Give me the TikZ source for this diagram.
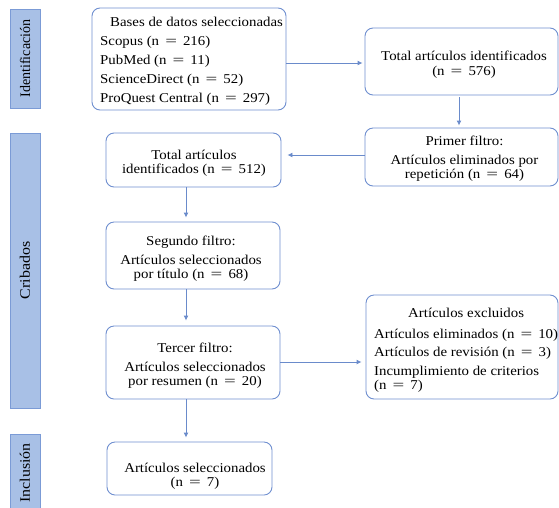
\documentclass[tikz,border=0pt]{standalone}
\usepackage{fontspec}
\setmainfont{Liberation Serif}[FakeStretch=1.1]
\usetikzlibrary{arrows.meta,calc}
\definecolor{boxblue}{HTML}{6F8FD0}
\definecolor{arrblue}{HTML}{6A8BCB}
\definecolor{barfill}{HTML}{A8C0E6}
\definecolor{barline}{HTML}{7B9BD6}
\newcommand{\myeq}{\hspace{0.45em}\scalebox{1.4}[1]{=}\hspace{0.45em}}
\tikzset{
  box/.style={draw=boxblue, line width=0.9pt, rounded corners=8pt, fill=white, inner sep=0pt},
  bar/.style={draw=barline, line width=0.9pt, fill=barfill, rotate=90, inner sep=0pt,
              font=\rmfamily\fontsize{14.5}{14.5}\selectfont},
  arr/.style={draw=arrblue, line width=0.9pt, -{Latex[length=5pt,width=5pt]}},
  txt/.style={font=\rmfamily\fontsize{13.5}{14}\selectfont, align=center, inner sep=0pt},
}
\begin{document}
\begin{tikzpicture}[x=1pt,y=-1pt]
\useasboundingbox (0,0) rectangle (559,507);
% side bars
\node[bar, minimum width=99pt, minimum height=30pt] (idbar) at (25,58.5) {\scalebox{0.88}[1]{Identificación}};
\node[bar, minimum width=275pt, minimum height=30pt] (cribar) at (25,270.5) {Cribados};
\node[bar, minimum width=78pt, minimum height=30pt] (incbar) at (25,473) {Inclusión};
% boxes
\node[box, minimum width=194pt, minimum height=102pt] (bases) at (189,59) {};
\node[txt, align=left, anchor=west, font=\rmfamily\fontsize{13.5}{19}\selectfont] (basestxt) at (100,61.4)
  {\hspace*{10pt}Bases de datos seleccionadas\\Scopus (n\myeq 216)\\PubMed (n\myeq 11)\\ScienceDirect (n\myeq 52)\\ProQuest Central (n\myeq 297)};
\node[box, minimum width=193pt, minimum height=67pt] (t576) at (461.5,61.5) {};
\node[txt, font=\rmfamily\fontsize{13.5}{15}\selectfont] (t576txt) at (464,65)
  {Total artículos identificados\\(n\myeq 576)};
\node[box, minimum width=193pt, minimum height=58pt] (primer) at (461.5,157) {};
\node[txt] (primertxt) at (464.5,158.6)
  {Primer filtro:\\[5pt]Artículos eliminados por\\repetición (n\myeq 64)};
\node[box, minimum width=175pt, minimum height=54pt] (t512) at (193.5,160) {};
\node[txt] (t512txt) at (194,163)
  {Total artículos\\identificados (n\myeq 512)};
\node[box, minimum width=174pt, minimum height=67pt] (segundo) at (193,255.5) {};
\node[txt] (segundotxt) at (191,258.5)
  {Segundo filtro:\\[5pt]Artículos seleccionados\\por título (n\myeq 68)};
\node[box, minimum width=174pt, minimum height=73pt] (tercer) at (193,362.5) {};
\node[txt] (tercertxt) at (195,365.8)
  {Tercer filtro:\\[5pt]Artículos seleccionados\\por resumen (n\myeq 20)};
\node[box, minimum width=192pt, minimum height=104pt] (excl) at (462,347) {};
\node[txt, anchor=west] (excltxt) at (374,350.8)
  {\begin{tabular}{@{}l@{}}\multicolumn{1}{@{}c@{}}{Artículos excluidos}\\[7pt]
   Artículos eliminados (n\myeq 10)\\[4pt]Artículos de revisión (n\myeq 3)\\[5pt]
   Incumplimiento de criterios\\(n\myeq 7)\end{tabular}};
\node[box, minimum width=165pt, minimum height=53pt] (selec) at (189.5,468.5) {};
\node[txt] (selectxt) at (195,476.5)
  {Artículos seleccionados\\(n\myeq 7)};
% connectors
\coordinate (ax) at (186,0);
\coordinate (bx) at (459,0);
\draw[arr, shorten >=2pt] (bases.east |- 0,63) -- (t576.west |- 0,63);
\draw[arr, shorten <=2pt, shorten >=2pt] (t576.south -| bx) -- (primer.north -| bx);
\draw[arr, shorten >=6pt] (primer.west |- 0,155) -- (t512.east |- 0,155);
\draw[arr, shorten >=4pt] (t512.south -| ax) -- (segundo.north -| ax);
\draw[arr, shorten >=5pt] (segundo.south -| ax) -- (tercer.north -| ax);
\draw[arr, shorten >=4pt] (tercer.east |- 0,362) -- (excl.west |- 0,362);
\draw[arr, shorten >=4pt] (tercer.south -| ax) -- (selec.north -| ax);
\end{tikzpicture}
\end{document}
